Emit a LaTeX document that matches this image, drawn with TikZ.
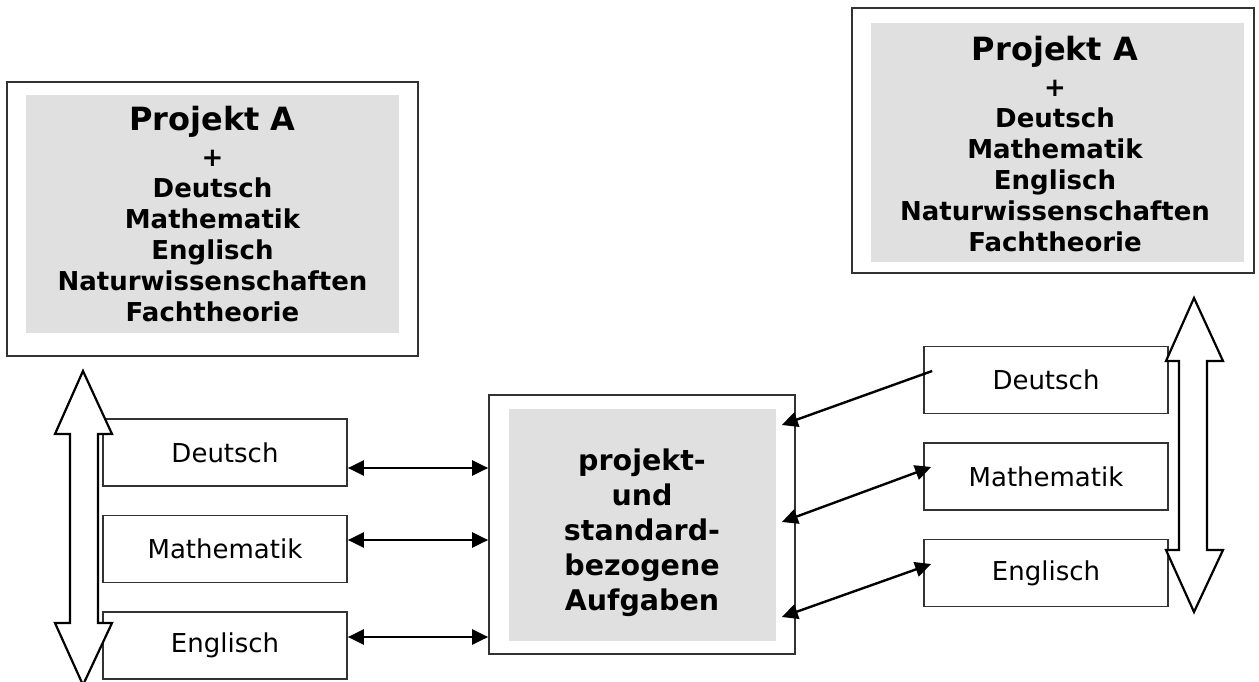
\documentclass[tikz,border=0pt]{standalone}
\usepackage{fontspec}
\setmainfont{DejaVu Sans}
\usetikzlibrary{arrows.meta,calc}
\definecolor{boxgray}{RGB}{224,224,224}
\definecolor{edge}{RGB}{50,50,50}
\begin{document}
\begin{tikzpicture}[x=1pt,y=-1pt,
  outerbox/.style={draw=edge,line width=1.7pt,fill=white,inner sep=0pt},
  graybox/.style={fill=boxgray,inner sep=0pt},
  subj/.style={draw=edge,line width=1.7pt,fill=white,minimum width=244pt,minimum height=67pt,inner sep=0pt,font=\fontsize{26}{31}\selectfont},
  bigtext/.style={align=center,inner sep=0pt,font=\bfseries\fontsize{26}{31}\selectfont},
  midtext/.style={align=center,inner sep=0pt,font=\bfseries\fontsize{28.5}{35}\selectfont},
  tip/.tip={Triangle[length=16pt,width=15pt]},
  link/.style={line width=2.4pt,-tip},
  dlink/.style={line width=2.4pt,tip-tip},
  fatarrow/.style={draw=black,line width=2.2pt,fill=white,line join=miter}]

\useasboundingbox (0,0) rectangle (1259,682);

% big boxes
\node[outerbox,minimum width=411pt,minimum height=274pt] (lbox) at (212.5,219) {};
\node[graybox,minimum width=373pt,minimum height=238pt] (lgray) at (212.5,214) {};
\node[bigtext] (ltext) at (212.5,214) {{\fontsize{32}{36}\selectfont Projekt A}\\[5pt] +\\ Deutsch\\ Mathematik\\ Englisch\\ Naturwissenschaften\\ Fachtheorie};

\node[outerbox,minimum width=402pt,minimum height=265pt] (rbox) at (1053,140.5) {};
\node[graybox,minimum width=373pt,minimum height=239pt] (rgray) at (1057.5,142.5) {};
\node[bigtext] (rtext) at (1055,144.5) {{\fontsize{32}{36}\selectfont Projekt A}\\[5pt] +\\ Deutsch\\ Mathematik\\ Englisch\\ Naturwissenschaften\\ Fachtheorie};

\node[outerbox,minimum width=306pt,minimum height=259pt] (cbox) at (642,524.5) {};
\node[graybox,minimum width=267pt,minimum height=232pt] (cgray) at (642.5,525) {};
\node[midtext] (ctext) at (642,533) {projekt-\\ und\\ standard-\\ bezogene\\ Aufgaben};

% subject boxes
\node[subj] (ld) at (225,452.5) {Deutsch};
\node[subj] (lm) at (225,549) {Mathematik};
\node[subj] (le) at (225,645.5) {Englisch};
\node[subj] (rd) at (1046,380) {Deutsch};
\node[subj] (rm) at (1046,476.5) {Mathematik};
\node[subj] (re) at (1046,573) {Englisch};

% fat double arrows
\draw[fatarrow] (83,371) -- (112,434) -- (98,434) -- (98,623) -- (112,623) -- (83,685) -- (55,623) -- (70,623) -- (70,434) -- (55,434) -- cycle;
\draw[fatarrow] (1194,298) -- (1223,361) -- (1207,361) -- (1207,550) -- (1223,550) -- (1194,612) -- (1166,550) -- (1179,550) -- (1179,361) -- (1166,361) -- cycle;

% left connectors
\coordinate (p1) at ([yshift=-15.5pt]ld.east);
\coordinate (p2) at ([yshift=9pt]lm.east);
\coordinate (p3) at ([yshift=8.5pt]le.east);
\draw[dlink] (p1) -- (p1 -| cbox.west);
\draw[dlink] (p2) -- (p2 -| cbox.west);
\draw[dlink] (p3) -- (p3 -| cbox.west);

% right connectors
\coordinate (q1) at ([xshift=9pt,yshift=9pt]rd.west);
\coordinate (c1) at ([xshift=-14pt,yshift=99.5pt]cbox.east);
\coordinate (c2) at ([xshift=-14pt,yshift=2.5pt]cbox.east);
\coordinate (c3) at ([xshift=-14pt,yshift=-92.5pt]cbox.east);
\coordinate (q2) at ([xshift=8pt,yshift=9.5pt]rm.west);
\coordinate (q3) at ([xshift=8pt,yshift=9pt]re.west);
\draw[link] (q1) -- (c1);
\draw[dlink] (c2) -- (q2);
\draw[dlink] (c3) -- (q3);
\end{tikzpicture}
\end{document}
